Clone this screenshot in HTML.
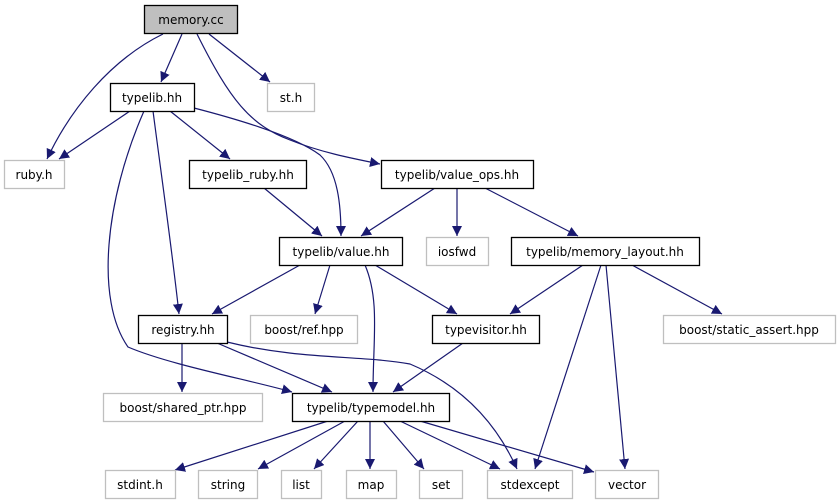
<!DOCTYPE html>
<html><head><meta charset="utf-8"><style>
html,body{margin:0;padding:0;background:#fff;}
svg{display:block;}
text{font-family:"DejaVu Sans","Liberation Sans",sans-serif;font-size:12px;fill:#000;}
</style></head><body>
<svg width="840" height="504" viewBox="0 0 840 504" xmlns="http://www.w3.org/2000/svg">
<defs><marker id="a" viewBox="0 0 10 10" refX="10" refY="5" markerWidth="10" markerHeight="10" markerUnits="userSpaceOnUse" orient="auto"><path d="M0,0 L10,5 L0,10 z" fill="#191970"/></marker></defs>
<g fill="none" stroke="#191970" stroke-width="1.2" marker-end="url(#a)">
<path d="M163,34 C110,60 70,110 47,159"/>
<path d="M182,34 L161,82"/>
<path d="M209,34 L270,82"/>
<path d="M197,34 C230,100 250,125 290,140 C320,152 350,158 380,164"/>
<path d="M130,111 L59,159"/>
<path d="M170,111 L230,159"/>
<path d="M194,108 C260,125 300,140 320,155 C338,172 341,205 341,236"/>
<path d="M153,111 C162,180 172,250 179,314"/>
<path d="M144,111 C105,200 95,300 128,347 C170,365 250,380 292,392"/>
<path d="M264,188 L322,236"/>
<path d="M435,188 L361,236"/>
<path d="M457,188 L457,236"/>
<path d="M485,188 L578,236"/>
<path d="M300,265 L212,314"/>
<path d="M330,265 L315,314"/>
<path d="M375,265 L457,314"/>
<path d="M365,265 C380,300 373,340 373,392"/>
<path d="M583,265 L510,314"/>
<path d="M601,265 L535,469"/>
<path d="M606,265 L625,469"/>
<path d="M632,265 L722,314"/>
<path d="M463,343 L393,392"/>
<path d="M182,343 L182,392"/>
<path d="M217,343 L332,392"/>
<path d="M227,342 C300,360 360,355 410,364 C460,385 495,420 517,469"/>
<path d="M328,421 L175,470"/>
<path d="M345,421 L258,469"/>
<path d="M358,421 L314,469"/>
<path d="M370,421 L370,469"/>
<path d="M383,421 L424,469"/>
<path d="M400,421 L500,469"/>
<path d="M420,421 L594,472"/>
</g>
<g stroke-width="1.3">
<rect x="144.5" y="5.5" width="93" height="28" fill="#bfbfbf" stroke="#000"/>
<rect x="110.5" y="83.5" width="84" height="28" fill="#fff" stroke="#000"/>
<rect x="189.5" y="160.5" width="117" height="28" fill="#fff" stroke="#000"/>
<rect x="381.5" y="160.5" width="152" height="28" fill="#fff" stroke="#000"/>
<rect x="279.5" y="237.5" width="123" height="28" fill="#fff" stroke="#000"/>
<rect x="511.5" y="237.5" width="188" height="28" fill="#fff" stroke="#000"/>
<rect x="138.5" y="315.5" width="89" height="28" fill="#fff" stroke="#000"/>
<rect x="432.5" y="315.5" width="107" height="28" fill="#fff" stroke="#000"/>
<rect x="292.5" y="393.5" width="157" height="28" fill="#fff" stroke="#000"/>
</g>
<g fill="#fff" stroke="#bfbfbf" stroke-width="1.3">
<rect x="267.5" y="83.5" width="47" height="28"/>
<rect x="4.5" y="160.5" width="60" height="28"/>
<rect x="426.5" y="237.5" width="62" height="28"/>
<rect x="250.5" y="315.5" width="107" height="28"/>
<rect x="663.5" y="315.5" width="172" height="28"/>
<rect x="103.5" y="393.5" width="159" height="28"/>
<rect x="105.5" y="470.5" width="70" height="28"/>
<rect x="198.5" y="470.5" width="59" height="28"/>
<rect x="281.5" y="470.5" width="40" height="28"/>
<rect x="346.5" y="470.5" width="50" height="28"/>
<rect x="419.5" y="470.5" width="43" height="28"/>
<rect x="487.5" y="470.5" width="85" height="28"/>
<rect x="595.5" y="470.5" width="63" height="28"/>
</g>
<g text-anchor="middle">
<text x="191" y="24">memory.cc</text>
<text x="152" y="102">typelib.hh</text>
<text x="291" y="102">st.h</text>
<text x="34" y="179">ruby.h</text>
<text x="248" y="179">typelib_ruby.hh</text>
<text x="457" y="179">typelib/value_ops.hh</text>
<text x="341" y="256">typelib/value.hh</text>
<text x="457" y="256">iosfwd</text>
<text x="605" y="256">typelib/memory_layout.hh</text>
<text x="183" y="334">registry.hh</text>
<text x="304" y="334">boost/ref.hpp</text>
<text x="486" y="334">typevisitor.hh</text>
<text x="749" y="334">boost/static_assert.hpp</text>
<text x="183" y="412">boost/shared_ptr.hpp</text>
<text x="371" y="412">typelib/typemodel.hh</text>
<text x="140" y="489">stdint.h</text>
<text x="228" y="489">string</text>
<text x="301" y="489">list</text>
<text x="371" y="489">map</text>
<text x="441" y="489">set</text>
<text x="530" y="489">stdexcept</text>
<text x="627" y="489">vector</text>
</g>
</svg>
</body></html>
